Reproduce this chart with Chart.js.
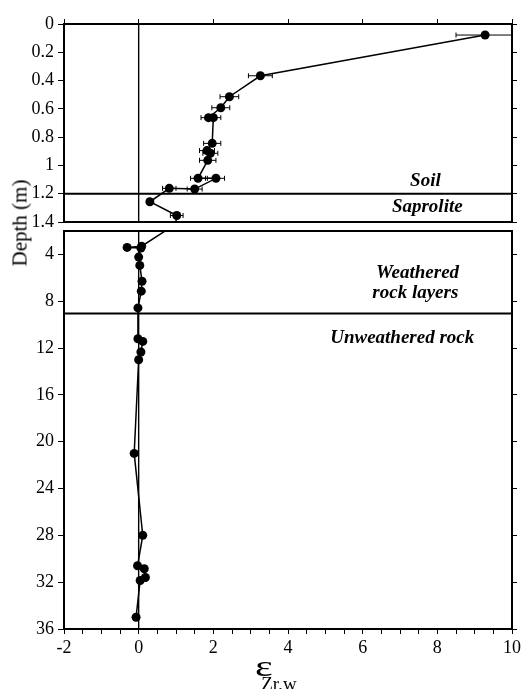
<!DOCTYPE html>
<html>
<head>
<meta charset="utf-8">
<script src="https://cdn.jsdelivr.net/npm/chart.js@4.4.1/dist/chart.umd.min.js"></script>
<style>
  body { margin: 0; background: #fff; }
  #wrap { position: relative; width: 524px; height: 689px; overflow: hidden; }
  #wrap canvas { position: absolute; left: 0; top: 0; }
  .lbl { position: absolute; font-family: "Liberation Serif", serif; color: #000; white-space: nowrap; }
  #ytitle { left: 20px; top: 223px; font-size: 21px; transform: translate(-50%, -50%) rotate(-90deg); }
  #xtitle { left: 255px; top: 652px; font-size: 29px; line-height: 1; }
  #xtitle .eps { display: inline-block; transform: scaleX(1.45); transform-origin: left center; }
  #xtitle sub { font-size: 19px; vertical-align: -14px; margin-left: -6px; }
</style>
</head>
<body>
<div id="wrap">
  <canvas id="chartTop" width="524" height="689"></canvas>
  <canvas id="chartBottom" width="524" height="689"></canvas>
  <div class="lbl" id="ytitle">Depth (m)</div>
  <div class="lbl" id="xtitle"><span class="eps">ε</span><sub>Zr,w</sub></div>
</div>
<script>
// soil + saprolite (top panel), depth in m
const topDepth = [0.078, 0.366, 0.514, 0.592, 0.662, 0.662, 0.844, 0.895, 0.914, 0.964, 1.091, 1.091, 1.167, 1.162, 1.257, 1.354];
const topEps   = [9.28, 3.26, 2.43, 2.20, 1.87, 2.00, 1.97, 1.83, 1.92, 1.85, 1.59, 2.07, 1.50, 0.82, 0.30, 1.02];
const topErr   = [0.78, 0.32, 0.25, 0.24, 0.20, 0.20, 0.23, 0.20, 0.20, 0.22, 0.20, 0.23, 0.20, 0.18, 0.00, 0.17];

// weathered / unweathered rock (bottom panel)
const botDepth = [3.30, 3.40, 3.45, 4.23, 4.94, 6.29, 7.14, 8.57, 11.2, 11.43, 12.34, 13.0, 21.0, 28.0, 30.6, 30.85, 31.6, 31.86, 35.0];
const botEps   = [0.08, -0.31, 0.06, 0.00, 0.03, 0.09, 0.07, -0.02, -0.02, 0.11, 0.06, 0.00, -0.12, 0.11, -0.03, 0.15, 0.18, 0.04, -0.07];

const xTicks = [-2, 0, 2, 4, 6, 8, 10];
const xMinorTicks = [];
for (let v = -2; v <= 10; v += 0.5) xMinorTicks.push(v);
const topYTicks = [0, 0.2, 0.4, 0.6, 0.8, 1, 1.2, 1.4];
const botYTicks = [4, 8, 12, 16, 20, 24, 28, 32, 36];

const topBoundary = [1.2];   // soil / saprolite
const botBoundary = [9.05];  // weathered / unweathered

Chart.defaults.font.family = '"Liberation Serif", serif';
Chart.defaults.font.size = 18;
Chart.defaults.color = "#000";

function setTicks(list) {
    return scale => { scale.ticks = list.map(v => ({ value: v })); };
}

const plainLabel = v => String(+Number(v).toFixed(2));

/** garis batas, garis nol, error bar, bingkai dan teks lapisan */
function makeOverlay(cfg) {
    return {
        id: "overlay",
        beforeDatasetsDraw(chart) {
            const { ctx, chartArea: a, scales: { x, y } } = chart;
            ctx.save();
            ctx.beginPath();
            ctx.rect(a.left, a.top, a.width, a.height);
            ctx.clip();
            ctx.strokeStyle = "#000";

            ctx.lineWidth = 1.4;
            const x0 = x.getPixelForValue(0);
            ctx.beginPath();
            ctx.moveTo(x0, a.top);
            ctx.lineTo(x0, a.bottom);
            ctx.stroke();

            ctx.lineWidth = 2;
            cfg.boundaries.forEach(d => {
                const py = y.getPixelForValue(d);
                ctx.beginPath();
                ctx.moveTo(a.left, py);
                ctx.lineTo(a.right, py);
                ctx.stroke();
            });

            ctx.lineWidth = 1;
            (cfg.err || []).forEach((e, i) => {
                if (!e) return;
                const py = y.getPixelForValue(cfg.depth[i]);
                const xl = x.getPixelForValue(cfg.eps[i] - e);
                const xr = x.getPixelForValue(cfg.eps[i] + e);
                ctx.beginPath();
                ctx.moveTo(xl, py); ctx.lineTo(xr, py);
                ctx.moveTo(xl, py - 2.5); ctx.lineTo(xl, py + 2.5);
                ctx.moveTo(xr, py - 2.5); ctx.lineTo(xr, py + 2.5);
                ctx.stroke();
            });
            ctx.restore();
        },
        afterDraw(chart) {
            const { ctx, chartArea: a, scales: { x, y } } = chart;
            ctx.save();
            ctx.strokeStyle = "#000";
            ctx.lineWidth = 2;
            ctx.strokeRect(a.left, a.top, a.width, a.height);

            ctx.fillStyle = "#000";
            ctx.font = 'bold italic 19px "Liberation Serif", serif';
            ctx.textAlign = "center";
            ctx.textBaseline = "middle";
            cfg.texts.forEach(t => {
                ctx.fillText(t.text, x.getPixelForValue(t.x), y.getPixelForValue(t.y));
            });
            ctx.restore();
        }
    };
}

const lineStyle = {
    showLine: true,
    borderColor: "#000",
    borderWidth: 1.5,
    pointRadius: 4.5,
    pointHoverRadius: 4.5,
    pointBackgroundColor: "#000",
    pointBorderWidth: 0
};

// titik penghubung antar panel supaya garis tetap menyambung
const topPoints = topEps.map((v, i) => ({ x: v, y: topDepth[i] }));
topPoints.push({ x: botEps[0], y: botDepth[0] });
const botPoints = [{ x: topEps[topEps.length - 1], y: topDepth[topDepth.length - 1] }]
    .concat(botEps.map((v, i) => ({ x: v, y: botDepth[i] })));

new Chart(document.getElementById("chartTop"), {
    type: "scatter",
    data: { datasets: [Object.assign({ data: topPoints }, lineStyle)] },
    options: {
        responsive: false,
        animation: false,
        devicePixelRatio: 1,
        layout: { padding: { top: 0, left: 0, right: 0, bottom: 467 } },
        plugins: { legend: { display: false }, tooltip: { enabled: false } },
        scales: {
            x: { type: "linear", min: -2, max: 10, display: false },
            x2: {
                type: "linear", position: "top", min: -2, max: 10,
                afterBuildTicks: setTicks(xTicks),
                ticks: { display: false },
                grid: { drawOnChartArea: false, tickLength: 5, color: "#000", lineWidth: 1 },
                border: { display: false },
                afterFit: s => { s.height = 24; }
            },
            y: {
                type: "linear", reverse: true, min: 0, max: 1.4,
                afterBuildTicks: setTicks(topYTicks),
                ticks: { padding: 4, autoSkip: false, callback: plainLabel },
                grid: { drawOnChartArea: false, tickLength: 6, color: "#000", lineWidth: 1 },
                border: { display: false },
                afterFit: s => { s.width = 64; }
            },
            y2: {
                type: "linear", position: "right", reverse: true, min: 0, max: 1.4,
                afterBuildTicks: setTicks(topYTicks),
                ticks: { display: false },
                grid: { drawOnChartArea: false, tickLength: 5, color: "#000", lineWidth: 1 },
                border: { display: false },
                afterFit: s => { s.width = 12; }
            }
        }
    },
    plugins: [makeOverlay({
        boundaries: topBoundary,
        depth: topDepth, eps: topEps, err: topErr,
        texts: [
            { text: "Soil", x: 7.68, y: 1.11 },
            { text: "Saprolite", x: 7.73, y: 1.294 }
        ]
    })]
});

new Chart(document.getElementById("chartBottom"), {
    type: "scatter",
    data: { datasets: [Object.assign({ data: botPoints }, lineStyle)] },
    options: {
        responsive: false,
        animation: false,
        devicePixelRatio: 1,
        layout: { padding: { top: 231, left: 0, right: 0, bottom: 0 } },
        plugins: { legend: { display: false }, tooltip: { enabled: false } },
        scales: {
            x: {
                type: "linear", min: -2, max: 10,
                afterBuildTicks: setTicks(xMinorTicks),
                ticks: {
                    autoSkip: false, maxRotation: 0, padding: 3,
                    callback: v => (xTicks.includes(v) ? String(v) : "")
                },
                grid: { drawOnChartArea: false, tickLength: 5, color: "#000", lineWidth: 1 },
                border: { display: false },
                afterFit: s => { s.height = 60; }
            },
            y: {
                type: "linear", reverse: true, min: 2, max: 36,
                afterBuildTicks: setTicks(botYTicks),
                ticks: { padding: 4, autoSkip: false, callback: plainLabel },
                grid: { drawOnChartArea: false, tickLength: 6, color: "#000", lineWidth: 1 },
                border: { display: false },
                afterFit: s => { s.width = 64; }
            },
            y2: {
                type: "linear", position: "right", reverse: true, min: 2, max: 36,
                afterBuildTicks: setTicks(botYTicks),
                ticks: { display: false },
                grid: { drawOnChartArea: false, tickLength: 5, color: "#000", lineWidth: 1 },
                border: { display: false },
                afterFit: s => { s.width = 12; }
            }
        }
    },
    plugins: [makeOverlay({
        boundaries: botBoundary,
        texts: [
            { text: "Weathered", x: 7.47, y: 5.59 },
            { text: "rock layers", x: 7.41, y: 7.3 },
            { text: "Unweathered rock", x: 7.06, y: 11.14 }
        ]
    })]
});
</script>
</body>
</html>
